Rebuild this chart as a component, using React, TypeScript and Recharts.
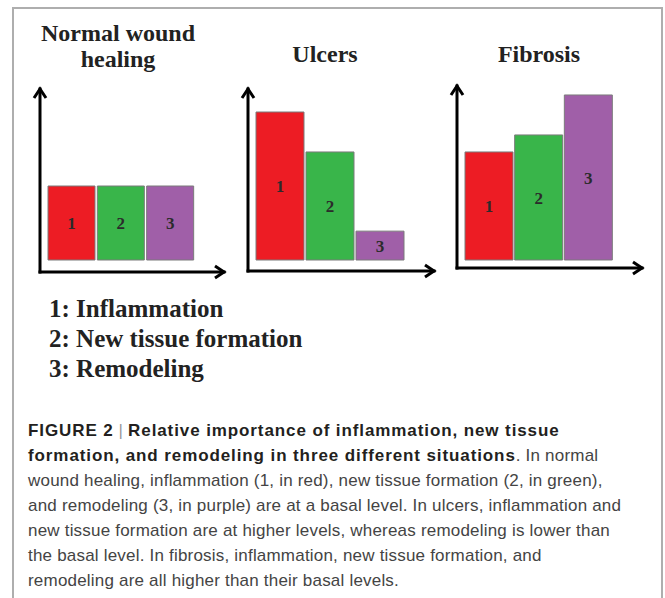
import { BarChart, Bar, XAxis, YAxis, Cell, LabelList } from "recharts"

const stages = ["1", "2", "3"]
const stageNames = ["Inflammation", "New tissue formation", "Remodeling"]
const normalValues = [1, 1, 1]
const ulcerValues = [2.0, 1.46, 0.39]
const fibrosisValues = [1.46, 1.69, 2.23]

const palette = ["#ed1c24", "#39b54a", "#a05fa8"]
const UNIT = 74 // px for one basal level
const serif = "'Liberation Serif', 'Times New Roman', serif"
const sans = "'Liberation Sans', Arial, sans-serif"

type PanelProps = {
  values: number[]
  axisX: number
  axisTop: number
  axisY: number
  tipX: number
  baseY: number
}

function Panel({ values, axisX, axisTop, axisY, tipX, baseY }: PanelProps) {
  const data = stages.map((s, i) => ({ stage: s, value: values[i] }))
  const m = 10
  const domain = [-(axisY - baseY) / UNIT, (baseY - axisTop) / UNIT]
  const axisStyle = { stroke: "#000", strokeWidth: 3, strokeLinecap: "square" as const }
  // axes need a size of at least 1px or recharts skips them
  return (
    <div style={{ position: "absolute", left: axisX - m, top: axisTop - m }}>
      <BarChart
        width={tipX - axisX + 2 * m}
        height={axisY - axisTop + 2 * m}
        data={data}
        margin={{ top: m, right: m, bottom: m - 1, left: m - 1 }}
        barCategoryGap={1}
      >
        <XAxis
          dataKey="stage"
          tick={false}
          tickLine={false}
          height={1}
          padding={{ left: 7, right: 29 }}
          axisLine={{ ...axisStyle, markerEnd: "url(#arrowHead)" }}
        />
        <YAxis
          type="number"
          domain={domain}
          allowDataOverflow
          tick={false}
          tickLine={false}
          width={1}
          axisLine={{ ...axisStyle, markerStart: "url(#arrowHead)" }}
        />
        <Bar dataKey="value" stroke="#7b7b7b" strokeWidth={1} isAnimationActive={false}>
          {data.map((d, i) => (
            <Cell key={d.stage} fill={palette[i]} />
          ))}
          <LabelList
            dataKey="stage"
            position="center"
            fill="#2b2b2b"
            fontSize={17}
            fontWeight="bold"
            fontFamily={serif}
          />
        </Bar>
      </BarChart>
    </div>
  )
}

const titleStyle = {
  position: "absolute" as const,
  width: 220,
  textAlign: "center" as const,
  fontFamily: serif,
  fontWeight: "bold" as const,
  fontSize: 24,
  lineHeight: "26px",
  color: "#222",
}

const b = { fontWeight: "bold" as const, color: "#231f20", letterSpacing: 0.9 }

export default function App() {
  return (
    <div
      style={{
        position: "absolute",
        left: 0,
        top: 0,
        width: 665,
        height: 598,
        background: "#fff",
        overflow: "hidden",
      }}
    >
      <svg width={0} height={0} style={{ position: "absolute" }}>
        <defs>
          <marker
            id="arrowHead"
            viewBox="0 0 12 14"
            refX={10}
            refY={7}
            markerWidth={12}
            markerHeight={14}
            markerUnits="userSpaceOnUse"
            orient="auto-start-reverse"
            overflow="visible"
          >
            <path d="M1,1 L10,7 L1,13" fill="none" stroke="#000" strokeWidth={3} />
          </marker>
        </defs>
      </svg>

      <div
        style={{
          position: "absolute",
          left: 12,
          top: 7,
          width: 647,
          height: 620,
          borderLeft: "2px solid #aeaeae",
          borderTop: "2px solid #aeaeae",
          borderRight: "2px solid #aeaeae",
        }}
      />

      <div style={{ ...titleStyle, left: 118 - 110, top: 20 }}>
        Normal wound
        <br />
        healing
      </div>
      <div style={{ ...titleStyle, left: 325 - 110, top: 41 }}>Ulcers</div>
      <div style={{ ...titleStyle, left: 539 - 110, top: 41 }}>Fibrosis</div>

      <Panel values={normalValues} axisX={40} axisTop={89} axisY={272} tipX={224} baseY={260} />
      <Panel values={ulcerValues} axisX={248} axisTop={89} axisY={271} tipX={434} baseY={260} />
      <Panel values={fibrosisValues} axisX={457} axisTop={86} axisY={268} tipX={642} baseY={260} />

      <div
        style={{
          position: "absolute",
          left: 49,
          top: 294,
          fontFamily: serif,
          fontWeight: "bold",
          fontSize: 25,
          lineHeight: "30px",
          color: "#222",
          whiteSpace: "nowrap",
        }}
      >
        {stageNames.map((n, i) => (
          <div key={n}>
            {stages[i]}: {n}
          </div>
        ))}
      </div>

      <div
        style={{
          position: "absolute",
          left: 28,
          top: 418,
          fontFamily: sans,
          fontSize: 17,
          lineHeight: "25px",
          letterSpacing: 0.2,
          color: "#444",
          whiteSpace: "nowrap",
        }}
      >
        <div>
          <span style={b}>FIGURE 2</span> <span style={{ color: "#999" }}>|</span>{" "}
          <span style={b}>Relative importance of inflammation, new tissue</span>
        </div>
        <div>
          <span style={b}>formation, and remodeling in three different situations</span>. In normal
        </div>
        <div>wound healing, inflammation (1, in red), new tissue formation (2, in green),</div>
        <div>and remodeling (3, in purple) are at a basal level. In ulcers, inflammation and</div>
        <div>new tissue formation are at higher levels, whereas remodeling is lower than</div>
        <div>the basal level. In fibrosis, inflammation, new tissue formation, and</div>
        <div>remodeling are all higher than their basal levels.</div>
      </div>
    </div>
  )
}
